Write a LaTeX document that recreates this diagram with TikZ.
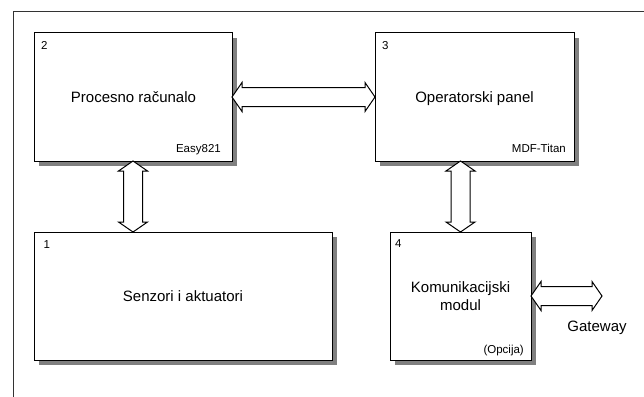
\documentclass[tikz,border=0pt]{standalone}
\usepackage{fontspec}
\setmainfont{Liberation Sans}
\usetikzlibrary{calc,shadows}
\tikzset{
  blockbox/.style={draw=black, line width=1pt, fill=white, inner sep=0pt, outer sep=0pt,
    drop shadow={shadow xshift=5pt, shadow yshift=-5pt, fill=black!50, opacity=1}},
  arrowbox/.style={draw=black, line width=1pt, fill=white, line join=miter},
  bigtxt/.style={inner sep=0pt, font=\fontsize{15}{18}\selectfont},
  smalltxt/.style={inner sep=0pt, font=\fontsize{11.5}{13}\selectfont},
}
% double arrows: shaft half width 9.5, head half width 14.5, head length 10
\newcommand\dblharrow[2]{%
  \path[arrowbox] let \p1=(#1), \p2=(#2) in
   (\x1,\y1) -- (\x1+10pt,\y1+14.5pt) -- (\x1+10pt,\y1+9.5pt) -- (\x2-10pt,\y2+9.5pt)
   -- (\x2-10pt,\y2+14.5pt) -- (\x2,\y2) -- (\x2-10pt,\y2-14.5pt) -- (\x2-10pt,\y2-9.5pt)
   -- (\x1+10pt,\y1-9.5pt) -- (\x1+10pt,\y1-14.5pt) -- cycle;}
\newcommand\dblvarrow[2]{%
  \path[arrowbox] let \p1=(#1), \p2=(#2) in
   (\x1,\y1) -- (\x1+14.5pt,\y1-10pt) -- (\x1+9.5pt,\y1-10pt) -- (\x2+9.5pt,\y2+10pt)
   -- (\x2+14.5pt,\y2+10pt) -- (\x2,\y2) -- (\x2-14.5pt,\y2+10pt) -- (\x2-9.5pt,\y2+10pt)
   -- (\x1-9.5pt,\y1-10pt) -- (\x1-14.5pt,\y1-10pt) -- cycle;}
\begin{document}
\begin{tikzpicture}[x=1pt,y=-1pt]
\useasboundingbox (0,0) rectangle (644,396);
% outer frame (only top and left edges inside the picture)
\draw[line width=1pt, black!80] (650,12) -- (13,12) -- (13,400);

% blocks
\node[blockbox, minimum width=198, minimum height=128] (b2) at (133,97) {};
\node[blockbox, minimum width=199, minimum height=128] (b3) at (474.5,97) {};
\node[blockbox, minimum width=298, minimum height=128] (b1) at (183,296) {};
\node[blockbox, minimum width=141, minimum height=128] (b4) at (460.5,296) {};

% numbers
\node[smalltxt, anchor=base west] (n2) at ($(b2.north west)+(7,16)$) {2};
\node[smalltxt, anchor=base west] (n3) at ($(b3.north west)+(7,16)$) {3};
\node[smalltxt, anchor=base west] (n1) at ($(b1.north west)+(9.5,16)$) {1};
\node[smalltxt, anchor=base west] (n4) at ($(b4.north west)+(5,15)$) {4};

% titles
\node[bigtxt, anchor=base] (t2) at ($(b2.north)+(0.5,69)$) {Procesno računalo};
\node[bigtxt, anchor=base] (t3) at ($(b3.north)+(0,69)$) {Operatorski panel};
\node[bigtxt, anchor=base] (t1) at ($(b1.north)+(0,69.5)$) {Senzori i aktuatori};
\node[bigtxt, anchor=base] (t4a) at ($(b4.north)+(0,60.3)$) {Komunikacijski};
\node[bigtxt, anchor=base] (t4b) at ($(b4.north)+(0,78.7)$) {modul};

% bottom-right labels
\node[smalltxt, anchor=base east] (l2) at ($(b2.south east)+(-11,-8.5)$) {Easy821};
\node[smalltxt, anchor=base east] (l3) at ($(b3.south east)+(-8,-8.5)$) {MDF-Titan};
\node[smalltxt, anchor=base east] (l4) at ($(b4.south east)+(-7,-7)$) {(Opcija)};

% connectors
\dblharrow{b2.east}{b3.west}
\dblvarrow{b2.south}{b2.south |- b1.north}
\dblvarrow{b4.north |- b3.south}{b4.north}
\coordinate (gw) at (602,296);
\dblharrow{b4.east}{gw}
\node[bigtxt, anchor=base] (gwt) at (597,331.7) {Gateway};
\end{tikzpicture}
\end{document}
